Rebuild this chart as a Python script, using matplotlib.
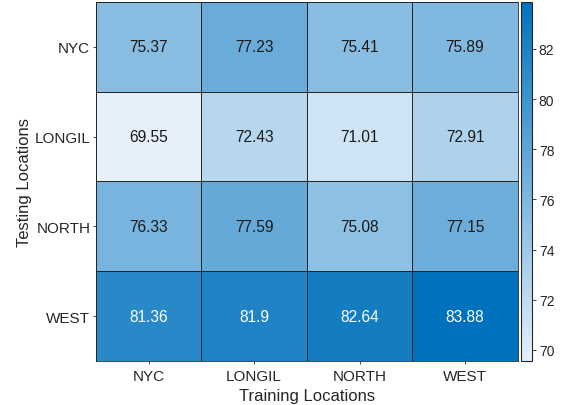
import numpy as np
import matplotlib
matplotlib.use("Agg")
import matplotlib.pyplot as plt
from matplotlib.colors import LinearSegmentedColormap

plt.rcParams['font.family'] = ['Liberation Sans', 'DejaVu Sans']

train_locs = ["NYC", "LONGIL", "NORTH", "WEST"]
test_locs = ["NYC", "LONGIL", "NORTH", "WEST"]
values = np.array([
    [75.37, 77.23, 75.41, 75.89],
    [69.55, 72.43, 71.01, 72.91],
    [76.33, 77.59, 75.08, 77.15],
    [81.36, 81.90, 82.64, 83.88],
])
cbar_ticks = [70, 72, 74, 76, 78, 80, 82]

cmap = LinearSegmentedColormap.from_list("sky", [(0.898, 0.941, 0.980), (0.0, 0.447, 0.741)])
vmin, vmax = values.min(), values.max()

fig = plt.figure(figsize=(5.64, 4.06), dpi=100)
ax = fig.add_axes([0.170, 0.108, 0.748, 0.885])
cax = fig.add_axes([0.924, 0.108, 0.019, 0.885])

im = ax.pcolormesh(values, cmap=cmap, vmin=vmin, vmax=vmax, edgecolor="#262626", linewidth=0.6)
ax.set_xlim(0, 4)
ax.set_ylim(4, 0)
for i in range(values.shape[0]):
    for j in range(values.shape[1]):
        v = values[i, j]
        t = (v - vmin) / (vmax - vmin)
        ax.text(j + 0.5, i + 0.5, f"{v:g}", ha="center", va="center", fontsize=11.2,
                color="white" if t > 0.7 else "#1a1a1a")

ax.set_xticks(np.arange(4) + 0.5)
ax.set_xticklabels(train_locs, fontsize=11, color="#262626")
ax.set_yticks(np.arange(4) + 0.5)
ax.set_yticklabels(test_locs, fontsize=11, color="#262626")
ax.tick_params(length=2, width=0.6, color="#262626", pad=2)
ax.tick_params(axis="x", pad=4)
ax.set_xlabel("Training Locations", fontsize=12, color="#262626", labelpad=3)
ax.set_ylabel("Testing Locations", fontsize=12, color="#262626", labelpad=2)
for s in ax.spines.values():
    s.set_color("#262626")
    s.set_linewidth(0.6)

cb = fig.colorbar(im, cax=cax)
cb.set_ticks(cbar_ticks)
cb.ax.tick_params(labelsize=10, length=3, width=0.6, direction="out", color="#262626", labelcolor="#262626", pad=2)
cb.outline.set_edgecolor("#262626")
cb.outline.set_linewidth(0.8)

fig.savefig("out.png", dpi=100)
